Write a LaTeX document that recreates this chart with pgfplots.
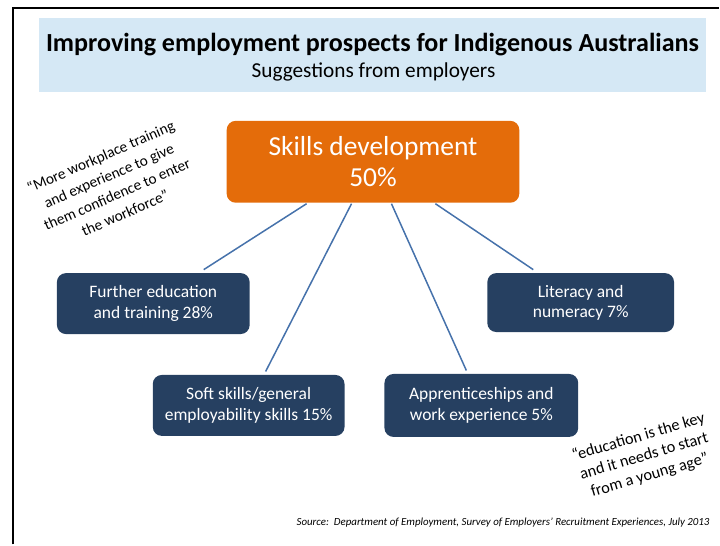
\documentclass[border=0pt]{standalone}
\usepackage{pgfplots}
\pgfplotsset{compat=1.18}
\usepackage{fontspec}
\setmainfont{Carlito}
\definecolor{titlebg}{HTML}{D5E8F5}
\definecolor{skillorange}{HTML}{E46C0A}
\definecolor{navy}{HTML}{264061}
\definecolor{linkblue}{HTML}{4672AB}
\begin{document}
\begin{tikzpicture}
\begin{axis}[
  width=720bp, height=545bp, scale only axis,
  xmin=0, xmax=720, ymin=0, ymax=545, y dir=reverse,
  hide axis, clip=false,
  boxstyle/.style={draw=none, mark=none,
    every node near coord/.append style={anchor=center, align=center, text=white,
      rounded corners=9bp, inner sep=0pt, yshift=0pt}},
]
% full slide extent
\path (axis cs:0,0) rectangle (axis cs:720,545);
% slide border
\addplot[black, line width=2bp] coordinates {(13,545) (13,8) (720,8)};
% title background
\addplot[fill=titlebg, draw=none] coordinates {(39,18) (707,18) (707,92) (39,92)};
% connectors
\addplot[linkblue, line width=1.5bp] coordinates {(307,204) (204,270)};
\addplot[linkblue, line width=1.5bp] coordinates {(352,204) (266,372)};
\addplot[linkblue, line width=1.5bp] coordinates {(392,204) (467,371)};
\addplot[linkblue, line width=1.5bp] coordinates {(436,204) (534,270)};
% main box (50%)
\addplot[boxstyle, nodes near coords={Skills development\\50\%},
  every node near coord/.append style={fill=skillorange, minimum width=293bp, minimum height=82bp,
    font=\fontsize{27.5bp}{31bp}\selectfont}] coordinates {(373.5,162)};
% sub boxes
\addplot[boxstyle, nodes near coords={Further education\\and training 28\%},
  every node near coord/.append style={fill=navy, minimum width=193bp, minimum height=61bp,
    font=\fontsize{17.5bp}{20.5bp}\selectfont, yshift=-1.5bp}] coordinates {(153.5,302.5)};
\addplot[boxstyle, nodes near coords={Literacy and\\numeracy 7\%},
  every node near coord/.append style={fill=navy, minimum width=187bp, minimum height=59bp,
    font=\fontsize{17.5bp}{20.5bp}\selectfont, yshift=-1.5bp}] coordinates {(581.5,301.5)};
\addplot[boxstyle, nodes near coords={Soft skills/general\\employability skills 15\%},
  every node near coord/.append style={fill=navy, minimum width=192bp, minimum height=61bp,
    font=\fontsize{17.5bp}{20.5bp}\selectfont, yshift=-1.5bp}] coordinates {(249,404.5)};
\addplot[boxstyle, nodes near coords={Apprenticeships and\\work experience 5\%},
  every node near coord/.append style={fill=navy, minimum width=194bp, minimum height=63bp,
    font=\fontsize{17.5bp}{20.5bp}\selectfont, yshift=-1.5bp}] coordinates {(482,404.5)};
% titles
\node[font=\bfseries\fontsize{26.1bp}{28bp}\selectfont] at (axis cs:373,45)
  {Improving employment prospects for Indigenous Australians};
\node[font=\fontsize{21.3bp}{23bp}\selectfont] at (axis cs:374,72) {Suggestions from employers};
% quotes
\node[overlay, rotate=23.5, align=center, font=\fontsize{15.3bp}{20.5bp}\selectfont] at (axis cs:113,185)
  {“More workplace training\\and experience to give\\them confidence to enter\\the workforce”};
\node[overlay, rotate=16.4, align=center, font=\fontsize{16.3bp}{20bp}\selectfont] at (axis cs:645,457)
  {“education is the key\\and it needs to start\\from a young age”};
% source
\node[overlay, anchor=east, font=\itshape\fontsize{10.9bp}{12bp}\selectfont] at (axis cs:714,523)
  {Source:\ \ Department of Employment, Survey of Employers’ Recruitment Experiences, July 2013};
\end{axis}
\end{tikzpicture}
\end{document}
